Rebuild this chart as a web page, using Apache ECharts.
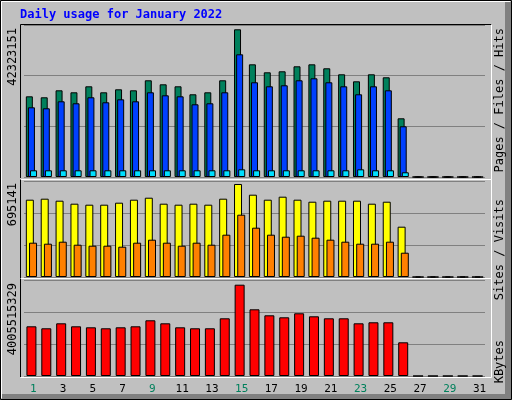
<!DOCTYPE html>
<html><head><meta charset="utf-8">
<script src="https://cdn.jsdelivr.net/npm/echarts@6/dist/echarts.min.js"></script>
<style>html,body{margin:0;padding:0;background:#c0c0c0}#c{width:512px;height:400px}</style>
</head><body><div id="c"></div>
<script>
const days = ['1','2','3','4','5','6','7','8','9','10','11','12','13','14','15','16','17','18','19','20','21','22','23','24','25','26','27','28','29','30','31'];
const weekend = ['1','2','8','9','15','16','22','23','29','30'];
const hits = [23120000,22840000,24840000,24270000,25990000,24270000,25130000,24840000,27710000,26560000,25990000,23700000,24270000,27710000,42323151,32290000,30000000,30290000,31720000,32290000,31150000,29430000,27420000,29430000,28570000,16820000,0,0,0,0,0];
const files = [19970000,19690000,21690000,21120000,22840000,21410000,22260000,21690000,24270000,23410000,23120000,20830000,21120000,24270000,35160000,27140000,25990000,26280000,27710000,28280000,27140000,25990000,23700000,25990000,24840000,14530000,0,0,0,0,0];
const pages = [1920000,1920000,1920000,1920000,1920000,1920000,1920000,1920000,1920000,1920000,1920000,1920000,1920000,1920000,2200000,1920000,1920000,1920000,1920000,1920000,1920000,1920000,2200000,1920000,1920000,1350000,0,0,0,0,0];
const visits = [577800,585300,570300,547900,540400,540400,555400,577800,592700,547900,540400,547900,540400,585300,695141,615200,577800,600200,577800,562800,570300,570300,570300,547900,562800,376000,0,0,0,0,0];
const sites = [256400,248900,263900,241400,234000,234000,226500,256400,278800,256400,234000,256400,241400,316200,465700,368500,316200,301200,308700,293800,278800,263900,248900,248900,263900,181600,0,0,0,0,0];
const kbytes = [2180000000,2093000000,2312000000,2180000000,2136000000,2093000000,2136000000,2180000000,2444000000,2312000000,2136000000,2093000000,2093000000,2531000000,4005515329,2926000000,2663000000,2575000000,2751000000,2619000000,2531000000,2531000000,2312000000,2356000000,2356000000,1478000000,0,0,0,0,0];
const topMax = [43555000, 717562, 4211500000];
const topLabels = ['42323151','695141','4005515329'];

const chart = echarts.init(document.getElementById('c'));
const font = '"DejaVu Sans Mono", monospace';
const grids = [{left:24,right:27,top:25,height:152},{left:24,right:27,top:181,height:96},{left:24,right:27,top:280,height:96}];
const xAxis = grids.map((g,i)=>({type:'category',data:days,gridIndex:i,axisLine:{show:false},axisTick:{show:false},
  axisLabel:{show:i===2,fontFamily:font,fontSize:11,margin:8,padding:[0,0,0,4],color:(v)=>weekend.includes(v)?'#00805c':'#000'}}));
const yAxis = grids.map((g,i)=>({type:'value',gridIndex:i,min:0,max:topMax[i],interval:topMax[i]/3,axisLabel:{show:false},axisLine:{show:false},axisTick:{show:false},splitLine:{lineStyle:{color:'#808080',width:1}}}));
const bs = (name,data,color,ax,w,gap)=>({type:'bar',name,data,xAxisIndex:ax,yAxisIndex:ax,barWidth:w,barGap:gap,
  itemStyle:{color,borderColor:'#000',borderWidth:1},silent:true,animation:false});
const series = [
  bs('Hits',hits,'#00805c',0,7,'-70%'), bs('Files',files,'#0040ff',0,7,'-70%'), bs('Pages',pages,'#00e0ff',0,7,'-70%'),
  bs('Visits',visits,'#ffff00',1,8,'-60%'), bs('Sites',sites,'#ff8000',1,8,'-60%'),
  bs('KBytes',kbytes,'#ff0000',2,10,'0%')
];
const line=(x1,y1,x2,y2,c)=>({type:'line',shape:{x1,y1,x2,y2},style:{stroke:c,lineWidth:1},silent:true,z:10});
const vtext=(x,y,text,rich,align)=>({type:'text',x,y,rotation:Math.PI/2,z:10,style:{text,align:align||'right',verticalAlign:'middle',font:'12px '+font,rich}});
const rfont={fontFamily:font,fontSize:12};
const graphic = [
  {type:'rect',shape:{x:0.5,y:0.5,width:511,height:399},style:{fill:null,stroke:'#000',lineWidth:1},silent:true},
  line(1.5,1.5,510,1.5,'#ffffff'), line(1.5,1.5,1.5,398,'#ffffff'),
  {type:'rect',shape:{x:505,y:2,width:6,height:397},style:{fill:'#808080'},silent:true},
  {type:'rect',shape:{x:2,y:394,width:509,height:5},style:{fill:'#808080'},silent:true},
  {type:'text',x:20,y:9,style:{text:'Daily usage for January 2022',font:'bold 12px '+font,fill:'#0000ff'}},
  line(20.5,24.5,491.5,24.5,'#000'), line(20.5,24.5,20.5,178,'#000'), line(491.5,24.5,491.5,179.5,'#fff'),
  line(20.5,179.5,491.5,179.5,'#fff'), line(20.5,179.5,20.5,278,'#000'), line(491.5,179.5,491.5,278.5,'#fff'),
  line(20.5,278.5,491.5,278.5,'#fff'), line(20.5,278.5,20.5,377,'#000'), line(491.5,278.5,491.5,377.5,'#fff'),
  line(20.5,377.5,491.5,377.5,'#fff'),
  vtext(13,28,topLabels[0],null), vtext(13,183,topLabels[1],null), vtext(13,283,topLabels[2],null),
  vtext(500,28,'{p|Pages}{s| / }{f|Files}{s| / }{h|Hits}',{p:{...rfont,color:'#00e0ff'},f:{...rfont,color:'#0040ff'},h:{...rfont,color:'#00805c'},s:{...rfont,color:'#000'}}),
  vtext(500,199,'{a|Sites}{s| / }{b|Visits}',{a:{...rfont,color:'#ff8000'},b:{...rfont,color:'#ffff00'},s:{...rfont,color:'#000'}}),
  vtext(500,340,'{k|KBytes}',{k:{...rfont,color:'#ff0000'}})
];
chart.setOption({animation:false,backgroundColor:'#c0c0c0',grid:grids,xAxis,yAxis,series,graphic});
</script></body></html>
